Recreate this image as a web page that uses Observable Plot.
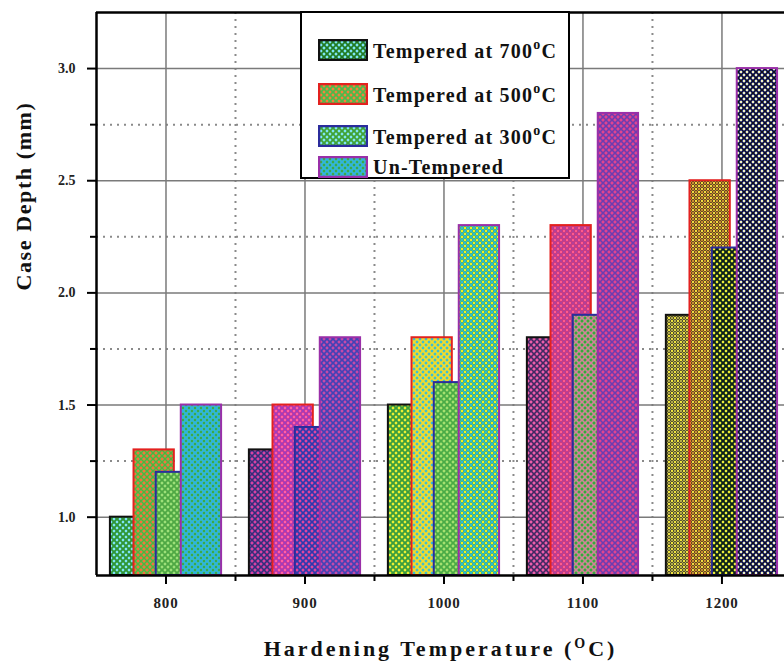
<!DOCTYPE html>
<html><head><meta charset="utf-8">
<script src="https://cdn.jsdelivr.net/npm/d3@7"></script>
<script src="https://cdn.jsdelivr.net/npm/@observablehq/plot@0.6"></script>
<style>
body{margin:0;background:#fff;}
#wrap{position:relative;width:784px;height:672px;overflow:hidden;background:#fff;}
#legend{position:absolute;left:300px;top:11px;width:266px;height:164px;border:2px solid #000;background:#fff;font-family:"Liberation Serif",serif;font-weight:bold;font-size:20px;letter-spacing:1.2px;color:#111;}
.lrow{position:absolute;left:16px;height:22px;display:flex;align-items:center;white-space:nowrap;}
.lrow svg{margin-right:5px;flex:none;}
.lrow sup{font-size:14px;position:relative;top:-1px;}
</style></head><body><div id="wrap"></div>
<script>
// ---- data ----
const temperatures = [800, 900, 1000, 1100, 1200];
const seriesNames = ["Tempered at 700", "Tempered at 500", "Tempered at 300", "Un-Tempered"];
const tempered700 = [1.0, 1.3, 1.5, 1.8, 1.9];
const tempered500 = [1.3, 1.5, 1.8, 2.3, 2.5];
const tempered300 = [1.2, 1.4, 1.6, 1.9, 2.2];
const unTempered  = [1.5, 1.8, 2.3, 2.8, 3.0];
const yTicks = [1.0, 1.5, 2.0, 2.5, 3.0];
const yTickLabels = ["1.0", "1.5", "2.0", "2.5", "3.0"];
const yMinorTicks = [1.25, 1.75, 2.25, 2.75];
const xTickLabels = ["800", "900", "1000", "1100", "1200"];
const xMinorTicks = [850, 950, 1050, 1150];
const yTitle = "Case Depth (mm)";
const xTitle = "Hardening Temperature (OC)";

// ---- styles ----
const seriesStroke = ["#111111", "#e3211f", "#2b2c9c", "#9a2fa8"];
// pattern palette per [temperature][series]: [background, hatch, dots]
const palette = [
  [["#3fb04a","#2e8f3c","#7fe3ff"],["#72c04c","#5aa83e","#ff6b3a"],["#63bd4f","#4ea545","#9fe07a"],["#3cc3b0","#2ab0e8","#3aa84a"]],
  [["#6c3ea6","#3a2a70","#e0409c"],["#e02f8c","#9a3fc0","#ff62a8"],["#5e48b4","#3434a8","#e8449c"],["#7444b4","#4242b4","#c84aa8"]],
  [["#59b545","#3d9a3a","#f2f030"],["#c6d44a","#f0dc30","#36c0d8"],["#63c252","#4aa845","#a8e070"],["#48b84a","#2cb8e0","#f4f020"]],
  [["#983a8c","#3c2a5e","#f060a8"],["#d3346e","#b0409e","#ff5c90"],["#6cc258","#e070a4","#3aa040"],["#a540a2","#6c3cb0","#e4448e"]],
  [["#151515","#b8b050","#f4e840"],["#201818","#d09030","#f8e040"],["#1e5a26","#151515","#f4ec3a"],["#2a34a8","#101010","#f8f8c0"]]
];
const legendPalette = [["#3fb04a","#1f6f2c","#7fe3ff"],["#62c04e","#58b048","#ff7a3a"],["#5cbf4c","#3a9c40","#7fe3ff"],["#39c0a8","#2fb0e8","#3aa84a"]];

const yDomain = [0.74, 3.25];
const offsets = [-40, -23, -7, 11];
const barW = 29;

const rows = [];
const seriesValues = [tempered700, tempered500, tempered300, unTempered];
temperatures.forEach((t, ti) => seriesValues.forEach((vals, si) => rows.push({t, ti, si, v: vals[ti], series: seriesNames[si]})));

const serif = "'Liberation Serif', 'DejaVu Serif', serif";

const chart = Plot.plot({
  width: 784, height: 672,
  marginLeft: 96, marginRight: 0, marginTop: 12, marginBottom: 97,
  x: {domain: [750, 1245], axis: null},
  y: {domain: yDomain, axis: null},
  color: {type: "identity"},
  style: {fontFamily: serif, background: "#fff"},
  marks: [
    Plot.ruleX(xMinorTicks, {stroke: "#8a8a8a", strokeWidth: 2, strokeDasharray: "2,5"}),
    Plot.ruleY(yMinorTicks, {stroke: "#8a8a8a", strokeWidth: 2, strokeDasharray: "2,5"}),
    Plot.ruleX(temperatures, {stroke: "#7a7a7a", strokeWidth: 1.5}),
    Plot.ruleY(yTicks, {stroke: "#7a7a7a", strokeWidth: 1.5}),
    Plot.rect(rows, {
      x1: d => d.t + offsets[d.si],
      x2: d => d.t + offsets[d.si] + barW,
      y1: d => yDomain[0],
      y2: "v",
      fill: d => `url(#pat${d.ti}_${d.si})`,
      stroke: d => seriesStroke[d.si],
      strokeWidth: 2
    }),
    Plot.ruleY([yDomain[1]], {stroke: "#000", strokeWidth: 2.5}),
    Plot.ruleY([yDomain[0]], {stroke: "#000", strokeWidth: 2.5}),
    Plot.ruleX([750], {stroke: "#000", strokeWidth: 2.5}),
    Plot.axisY(yTicks, {tickSize: 9, tickPadding: 12, tickFormat: (d, i) => yTickLabels[i], label: null, strokeWidth: 2}),
    Plot.axisY(yMinorTicks, {tickSize: 6, tickFormat: () => "", label: null, strokeWidth: 2}),
    Plot.axisX(temperatures, {tickSize: 9, tickPadding: 13, tickFormat: (d, i) => xTickLabels[i], label: null, strokeWidth: 2}),
    Plot.axisX(xMinorTicks, {tickSize: 6, tickFormat: () => "", label: null, strokeWidth: 2}),
    Plot.text([yTitle], {frameAnchor: "left", rotate: -90, fontSize: 22, fontWeight: "bold", fill: "#111"}),
    Plot.text([xTitle], {frameAnchor: "bottom", dy: 80, fontSize: 22, fontWeight: "bold", fill: "#111"})
  ]
});

// text tweaks: font sizes, letter spacing, superscript, title position
chart.querySelectorAll("text").forEach(t => {
  const s = t.textContent;
  if (s === yTitle) {
    t.style.letterSpacing = "1.6px";
    t.removeAttribute("x"); t.removeAttribute("y");
    t.setAttribute("transform", "translate(30,290) rotate(-90)");
  }
  if (xTickLabels.includes(s) || yTickLabels.includes(s)) {
    t.style.fontWeight = "bold";
    t.style.fill = "#222";
    if (xTickLabels.includes(s)) { t.style.fontSize = "15px"; t.style.letterSpacing = "0.8px"; }
    else t.style.fontSize = "14px";
  }
  if (s === xTitle) {
    t.style.letterSpacing = "3px";
    t.textContent = "";
    const ns = "http://www.w3.org/2000/svg";
    const a = document.createElementNS(ns, "tspan"); a.textContent = "Hardening Temperature (";
    const b = document.createElementNS(ns, "tspan"); b.textContent = "O"; b.setAttribute("dy", "-8"); b.setAttribute("font-size", "14");
    const c = document.createElementNS(ns, "tspan"); c.textContent = "C)"; c.setAttribute("dy", "8");
    t.append(a, b, c);
  }
});

// patterns
const ns = "http://www.w3.org/2000/svg";
function makePattern(id, [bg, hatch, dot]) {
  const p = document.createElementNS(ns, "pattern");
  p.setAttribute("id", id);
  p.setAttribute("patternUnits", "userSpaceOnUse");
  p.setAttribute("width", 6); p.setAttribute("height", 6);
  p.innerHTML = `<rect width="6" height="6" fill="${bg}"/>` +
    `<path d="M0,0L6,6M6,0L0,6" stroke="${hatch}" stroke-width="1.2"/>` +
    `<circle cx="3" cy="0" r="1.2" fill="${dot}"/><circle cx="3" cy="6" r="1.2" fill="${dot}"/>` +
    `<circle cx="0" cy="3" r="1.2" fill="${dot}"/><circle cx="6" cy="3" r="1.2" fill="${dot}"/>`;
  return p;
}
const defs = document.createElementNS(ns, "defs");
palette.forEach((row, ti) => row.forEach((c, si) => defs.appendChild(makePattern(`pat${ti}_${si}`, c))));
legendPalette.forEach((c, si) => defs.appendChild(makePattern(`leg${si}`, c)));
chart.insertBefore(defs, chart.firstChild);

const wrap = document.getElementById("wrap");
wrap.appendChild(chart);

// legend
const legend = document.createElement("div");
legend.id = "legend";
const rowTops = [26, 70, 112, 143];
seriesNames.forEach((name, si) => {
  const r = document.createElement("div");
  r.className = "lrow";
  r.style.top = rowTops[si] + "px";
  const deg = si < 3 ? `<sup>o</sup>C` : "";
  r.innerHTML = `<svg width="50" height="22"><rect x="1" y="1" width="48" height="20" fill="url(#leg${si})" stroke="${seriesStroke[si]}" stroke-width="2.5"/></svg><span>${name}${deg}</span>`;
  legend.appendChild(r);
});
wrap.appendChild(legend);
</script></body></html>
